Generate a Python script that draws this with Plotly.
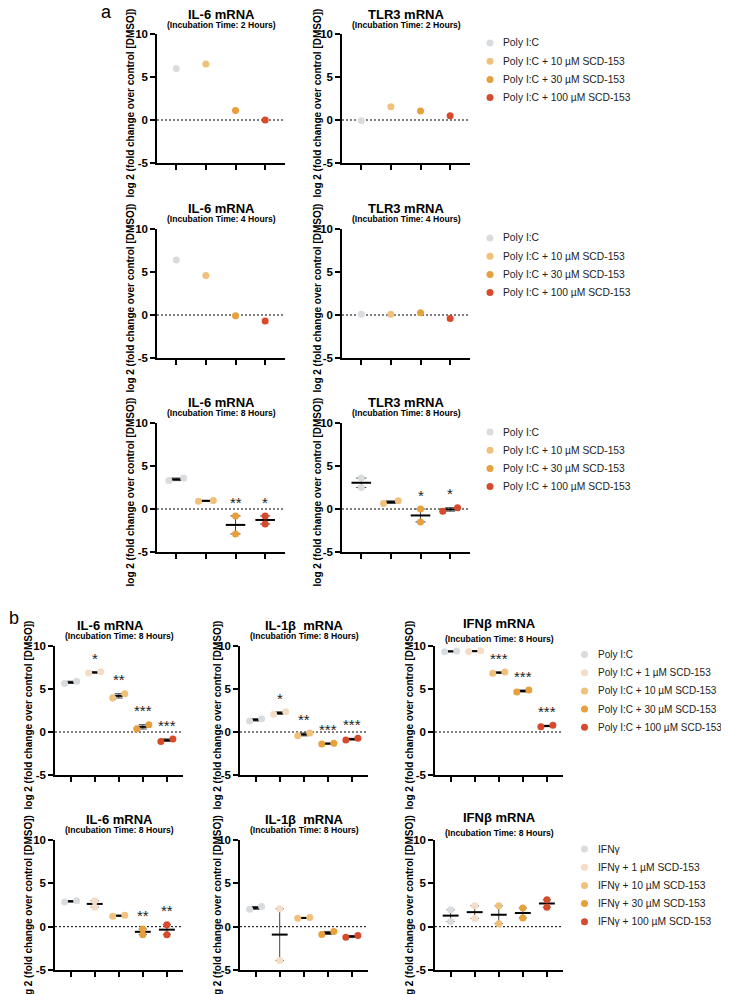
import plotly.graph_objects as go

W, H = 729, 994
OX, OY = 8, 8  # page body margin, so pixel positions below are page pixels
FONT = "Liberation Sans, Arial, sans-serif"

# ---------------- data ----------------
Y_TICKS = [-5, 0, 5, 10]
Y_TICKTEXT = ["-5", "0", "5", "10"]
Y_TITLE = "log 2 (fold change over control [DMSO])"

NAMES_A = ["Poly I:C", "Poly I:C + 10 µM SCD-153", "Poly I:C + 30 µM SCD-153",
           "Poly I:C + 100 µM SCD-153"]
NAMES_B1 = ["Poly I:C", "Poly I:C + 1 µM SCD-153", "Poly I:C + 10 µM SCD-153",
            "Poly I:C + 30 µM SCD-153", "Poly I:C + 100 µM SCD-153"]
NAMES_B2 = ["IFNγ", "IFNγ + 1 µM SCD-153", "IFNγ + 10 µM SCD-153",
            "IFNγ + 30 µM SCD-153", "IFNγ + 100 µM SCD-153"]

# panel a (replicate values per group)
il6_2h = [[6.0], [6.5], [1.1], [0.0]]
tlr3_2h = [[-0.1], [1.55], [1.05], [0.5]]
il6_4h = [[6.4], [4.6], [-0.1], [-0.7]]
tlr3_4h = [[0.1], [0.1], [0.25], [-0.4]]
il6_8h = [[3.3, 3.6], [0.9, 1.0], [-0.8, -2.9], [-0.8, -1.75]]
tlr3_8h = [[3.6, 2.5], [0.65, 0.95], [0.0, -1.5], [-0.25, 0.15]]
stars_il6_8h = ["", "", "**", "*"]
stars_tlr3_8h = ["", "", "*", "*"]

# panel b, Poly I:C
b_il6_poly = [[5.65, 5.9], [6.85, 7.0], [3.95, 4.45], [0.35, 0.85], [-1.1, -0.8]]
b_il1b_poly = [[1.28, 1.55], [2.05, 2.35], [-0.45, -0.12], [-1.4, -1.3], [-0.93, -0.74]]
b_ifnb_poly = [[9.33, 9.42], [9.35, 9.45], [6.83, 6.98], [4.65, 4.88], [0.62, 0.78]]
stars_il6_poly = ["", "*", "**", "***", "***"]
stars_il1b_poly = ["", "*", "**", "***", "***"]
stars_ifnb_poly = ["", "", "***", "***", "***"]

# panel b, IFNγ
b_il6_ifng = [[2.85, 3.0], [3.0, 2.25], [1.2, 1.32], [-0.27, -0.92], [0.23, -0.92]]
b_il1b_ifng = [[2.0, 2.33], [2.07, -3.9], [0.97, 1.05], [-0.9, -0.55], [-1.23, -1.03]]
b_ifnb_ifng = [[1.95, 0.6], [2.4, 0.95], [2.4, 0.35], [2.15, 1.0], [3.1, 2.25]]
stars_il6_ifng = ["", "", "", "**", "**"]

# ---------------- styles ----------------
GRAY = "#d9dcdf"
C1 = "#f5dcc6"
C10 = "#f1c17c"
C30 = "#e8a03c"
C100 = "#d74a2b"
COLORS_A = [GRAY, C10, C30, C100]
COLORS_B = [GRAY, C1, C10, C30, C100]

# columns: (axis left, axis right, y-title centre x); rows: (axis top, axis bottom)
A_COLS = [(157, 285, 130), (342, 470, 317)]
A_ROWS = [(34, 163), (229, 358), (423, 552)]
B_COLS = [(55, 183, 28), (240, 368, 217), (435, 563, 409)]
B_ROWS = [(646, 775), (840, 970)]
LEG_STEP = 18.2


def fx(px):
    return (px - OX) / W


def fy(py):
    return 1 - (py - OY) / H


def sub(h):
    return f"(Incubation Time: {h} Hours)"


panels = [
    dict(data=il6_2h, title="IL-6 mRNA", sub=sub(2), box=(A_COLS[0], A_ROWS[0]), tgap=(20, 9.5)),
    dict(data=tlr3_2h, title="TLR3 mRNA", sub=sub(2), box=(A_COLS[1], A_ROWS[0]), tgap=(20, 9.5)),
    dict(data=il6_4h, title="IL-6 mRNA", sub=sub(4), box=(A_COLS[0], A_ROWS[1])),
    dict(data=tlr3_4h, title="TLR3 mRNA", sub=sub(4), box=(A_COLS[1], A_ROWS[1])),
    dict(data=il6_8h, stars=stars_il6_8h, title="IL-6 mRNA", sub=sub(8), box=(A_COLS[0], A_ROWS[2])),
    dict(data=tlr3_8h, stars=stars_tlr3_8h, title="TLR3 mRNA", sub=sub(8), box=(A_COLS[1], A_ROWS[2])),
    dict(data=b_il6_poly, stars=stars_il6_poly, title="IL-6 mRNA", sub=sub(8), box=(B_COLS[0], B_ROWS[0]), tshift=-9),
    dict(data=b_il1b_poly, stars=stars_il1b_poly, title="IL-1β  mRNA", sub=sub(8), box=(B_COLS[1], B_ROWS[0])),
    dict(data=b_ifnb_poly, stars=stars_ifnb_poly, title="IFNβ mRNA", sub=sub(8), box=(B_COLS[2], B_ROWS[0]), tgap=(23, 7)),
    dict(data=b_il6_ifng, stars=stars_il6_ifng, title="IL-6 mRNA", sub=sub(8), box=(B_COLS[0], B_ROWS[1])),
    dict(data=b_il1b_ifng, title="IL-1β  mRNA", sub=sub(8), box=(B_COLS[1], B_ROWS[1])),
    dict(data=b_ifnb_ifng, title="IFNβ mRNA", sub=sub(8), box=(B_COLS[2], B_ROWS[1]), tgap=(23, 7)),
]
for p in panels:
    p["colors"] = COLORS_A if len(p["data"]) == 4 else COLORS_B

# legend blocks: names, colours, marker x (px), first item centre y (px), font size
legends = [
    (NAMES_A, COLORS_A, 490, 43, 10.3),
    (NAMES_A, COLORS_A, 490, 238, 10.3),
    (NAMES_A, COLORS_A, 490, 432, 10.3),
    (NAMES_B1, COLORS_B, 584.5, 654.5, 10),
    (NAMES_B2, COLORS_B, 584.5, 849, 10.3),
]


def mean_sem(vals):
    n = len(vals)
    m = sum(vals) / n
    if n < 2:
        return m, 0.0
    sd = (sum((v - m) ** 2 for v in vals) / (n - 1)) ** 0.5
    return m, sd / n ** 0.5


def jitter(vals):
    # spread near-equal replicates sideways, lower value to the left
    if len(vals) == 2 and abs(vals[0] - vals[1]) < 0.55:
        lo = 0 if vals[0] <= vals[1] else 1
        off = [0.25, 0.25]
        off[lo] = -0.25
        return off
    return [0.0] * len(vals)


fig = go.Figure()
annotations = []
shapes = []
axes = {}

for i, p in enumerate(panels, start=1):
    sfx = "" if i == 1 else str(i)
    xr, yr = f"x{sfx}", f"y{sfx}"
    (x0, x1, xt), (ytop, ybot) = p["box"]
    n = len(p["data"])

    for g, vals in enumerate(p["data"], start=1):
        m, s = mean_sem(vals)
        if len(vals) > 1:
            fig.add_trace(go.Scatter(
                x=[g, g, None, g - 0.17, g + 0.17, None, g - 0.17, g + 0.17],
                y=[m - s, m + s, None, m + s, m + s, None, m - s, m - s],
                mode="lines", line=dict(color="#444", width=1),
                xaxis=xr, yaxis=yr, hoverinfo="skip"))
            fig.add_trace(go.Scatter(
                x=[g - 0.33, g + 0.33], y=[m, m], mode="lines",
                line=dict(color="black", width=2),
                xaxis=xr, yaxis=yr, hoverinfo="skip"))
        off = jitter(vals)
        fig.add_trace(go.Scatter(
            x=[g + o for o in off], y=vals, mode="markers",
            marker=dict(color=p["colors"][g - 1], size=7),
            xaxis=xr, yaxis=yr))
        star = p.get("stars", [""] * n)[g - 1]
        if star:
            annotations.append(dict(
                x=g, y=max(vals) + 1.6, xref=xr, yref=yr, text=star, showarrow=False,
                yanchor="middle", font=dict(family=FONT, size=15, color="#222")))

    axes[f"xaxis{sfx}"] = dict(
        domain=[fx(x0), fx(x1)], range=[0.35, n + 0.67], anchor=yr,
        showline=True, linecolor="black", linewidth=1.5,
        ticks="outside", ticklen=5, tickwidth=1.5, tickcolor="black",
        tickvals=list(range(1, n + 1)), showticklabels=False,
        showgrid=False, zeroline=False, fixedrange=True, automargin=False)
    axes[f"yaxis{sfx}"] = dict(
        domain=[fy(ybot), fy(ytop)], range=[-5, 10], anchor=xr,
        showline=True, linecolor="black", linewidth=1.5,
        ticks="outside", ticklen=5, tickwidth=1.5, tickcolor="black",
        tickvals=Y_TICKS, ticktext=Y_TICKTEXT,
        tickfont=dict(family=FONT, size=11.5, color="black", weight="bold"),
        showgrid=False, zeroline=False, fixedrange=True, automargin=False)

    shapes.append(dict(type="line", xref=f"{xr} domain", yref=yr, x0=0, x1=1, y0=0, y1=0,
                       line=dict(color="black", width=1, dash="2px,2px"), layer="below"))

    # y-axis title, sits a little below the axis centre as in the original
    annotations.append(dict(
        x=fx(xt), y=fy((ytop + ybot) / 2 + 5), xref="paper", yref="paper",
        text=Y_TITLE, textangle=-90, showarrow=False, xanchor="center", yanchor="middle",
        font=dict(family=FONT, size=10, color="black", weight="bold")))

    tg, sg = p.get("tgap", (21, 10))
    annotations.append(dict(
        x=0.5, xref=f"{xr} domain", y=fy(ytop - tg), yref="paper", xshift=p.get("tshift", 0),
        text=p["title"], showarrow=False, yanchor="middle",
        font=dict(family=FONT, size=13, color="black", weight="bold")))
    annotations.append(dict(
        x=0.5, xref=f"{xr} domain", y=fy(ytop - sg), yref="paper",
        text=p["sub"], showarrow=False, yanchor="middle",
        font=dict(family=FONT, size=8.6, color="black", weight="bold")))

# legends drawn on small hidden axes
k = len(panels)
for names, colors, mx, first, fsize in legends:
    k += 1
    xr, yr = f"x{k}", f"y{k}"
    nl = len(names)
    top = first - LEG_STEP / 2
    axes[f"xaxis{k}"] = dict(domain=[fx(mx - 10), fx(mx + 10)], range=[-1, 1],
                             visible=False, anchor=yr, fixedrange=True)
    axes[f"yaxis{k}"] = dict(domain=[fy(top + nl * LEG_STEP), fy(top)],
                             range=[nl - 0.5, -0.5], visible=False, anchor=xr, fixedrange=True)
    fig.add_trace(go.Scatter(x=[0] * nl, y=list(range(nl)), mode="markers",
                             marker=dict(color=colors, size=7), xaxis=xr, yaxis=yr,
                             hoverinfo="skip"))
    for j, name in enumerate(names):
        annotations.append(dict(x=0, y=j, xref=xr, yref=yr, text=name, showarrow=False,
                                xanchor="left", yanchor="middle", xshift=11,
                                font=dict(family=FONT, size=fsize, color="#222")))

annotations.append(dict(x=fx(106), y=fy(12), xref="paper", yref="paper", text="a",
                        showarrow=False, xanchor="center", yanchor="middle",
                        font=dict(family=FONT, size=18, color="black")))
annotations.append(dict(x=fx(14), y=fy(618), xref="paper", yref="paper", text="b",
                        showarrow=False, xanchor="center", yanchor="middle",
                        font=dict(family=FONT, size=18, color="black")))

fig.update_layout(axes)
fig.update_layout(
    width=W, height=H, margin=dict(l=0, r=0, t=0, b=0, autoexpand=False),
    paper_bgcolor="white", plot_bgcolor="white", showlegend=False,
    font=dict(family=FONT), annotations=annotations, shapes=shapes,
)

fig.write_html("out.html")
